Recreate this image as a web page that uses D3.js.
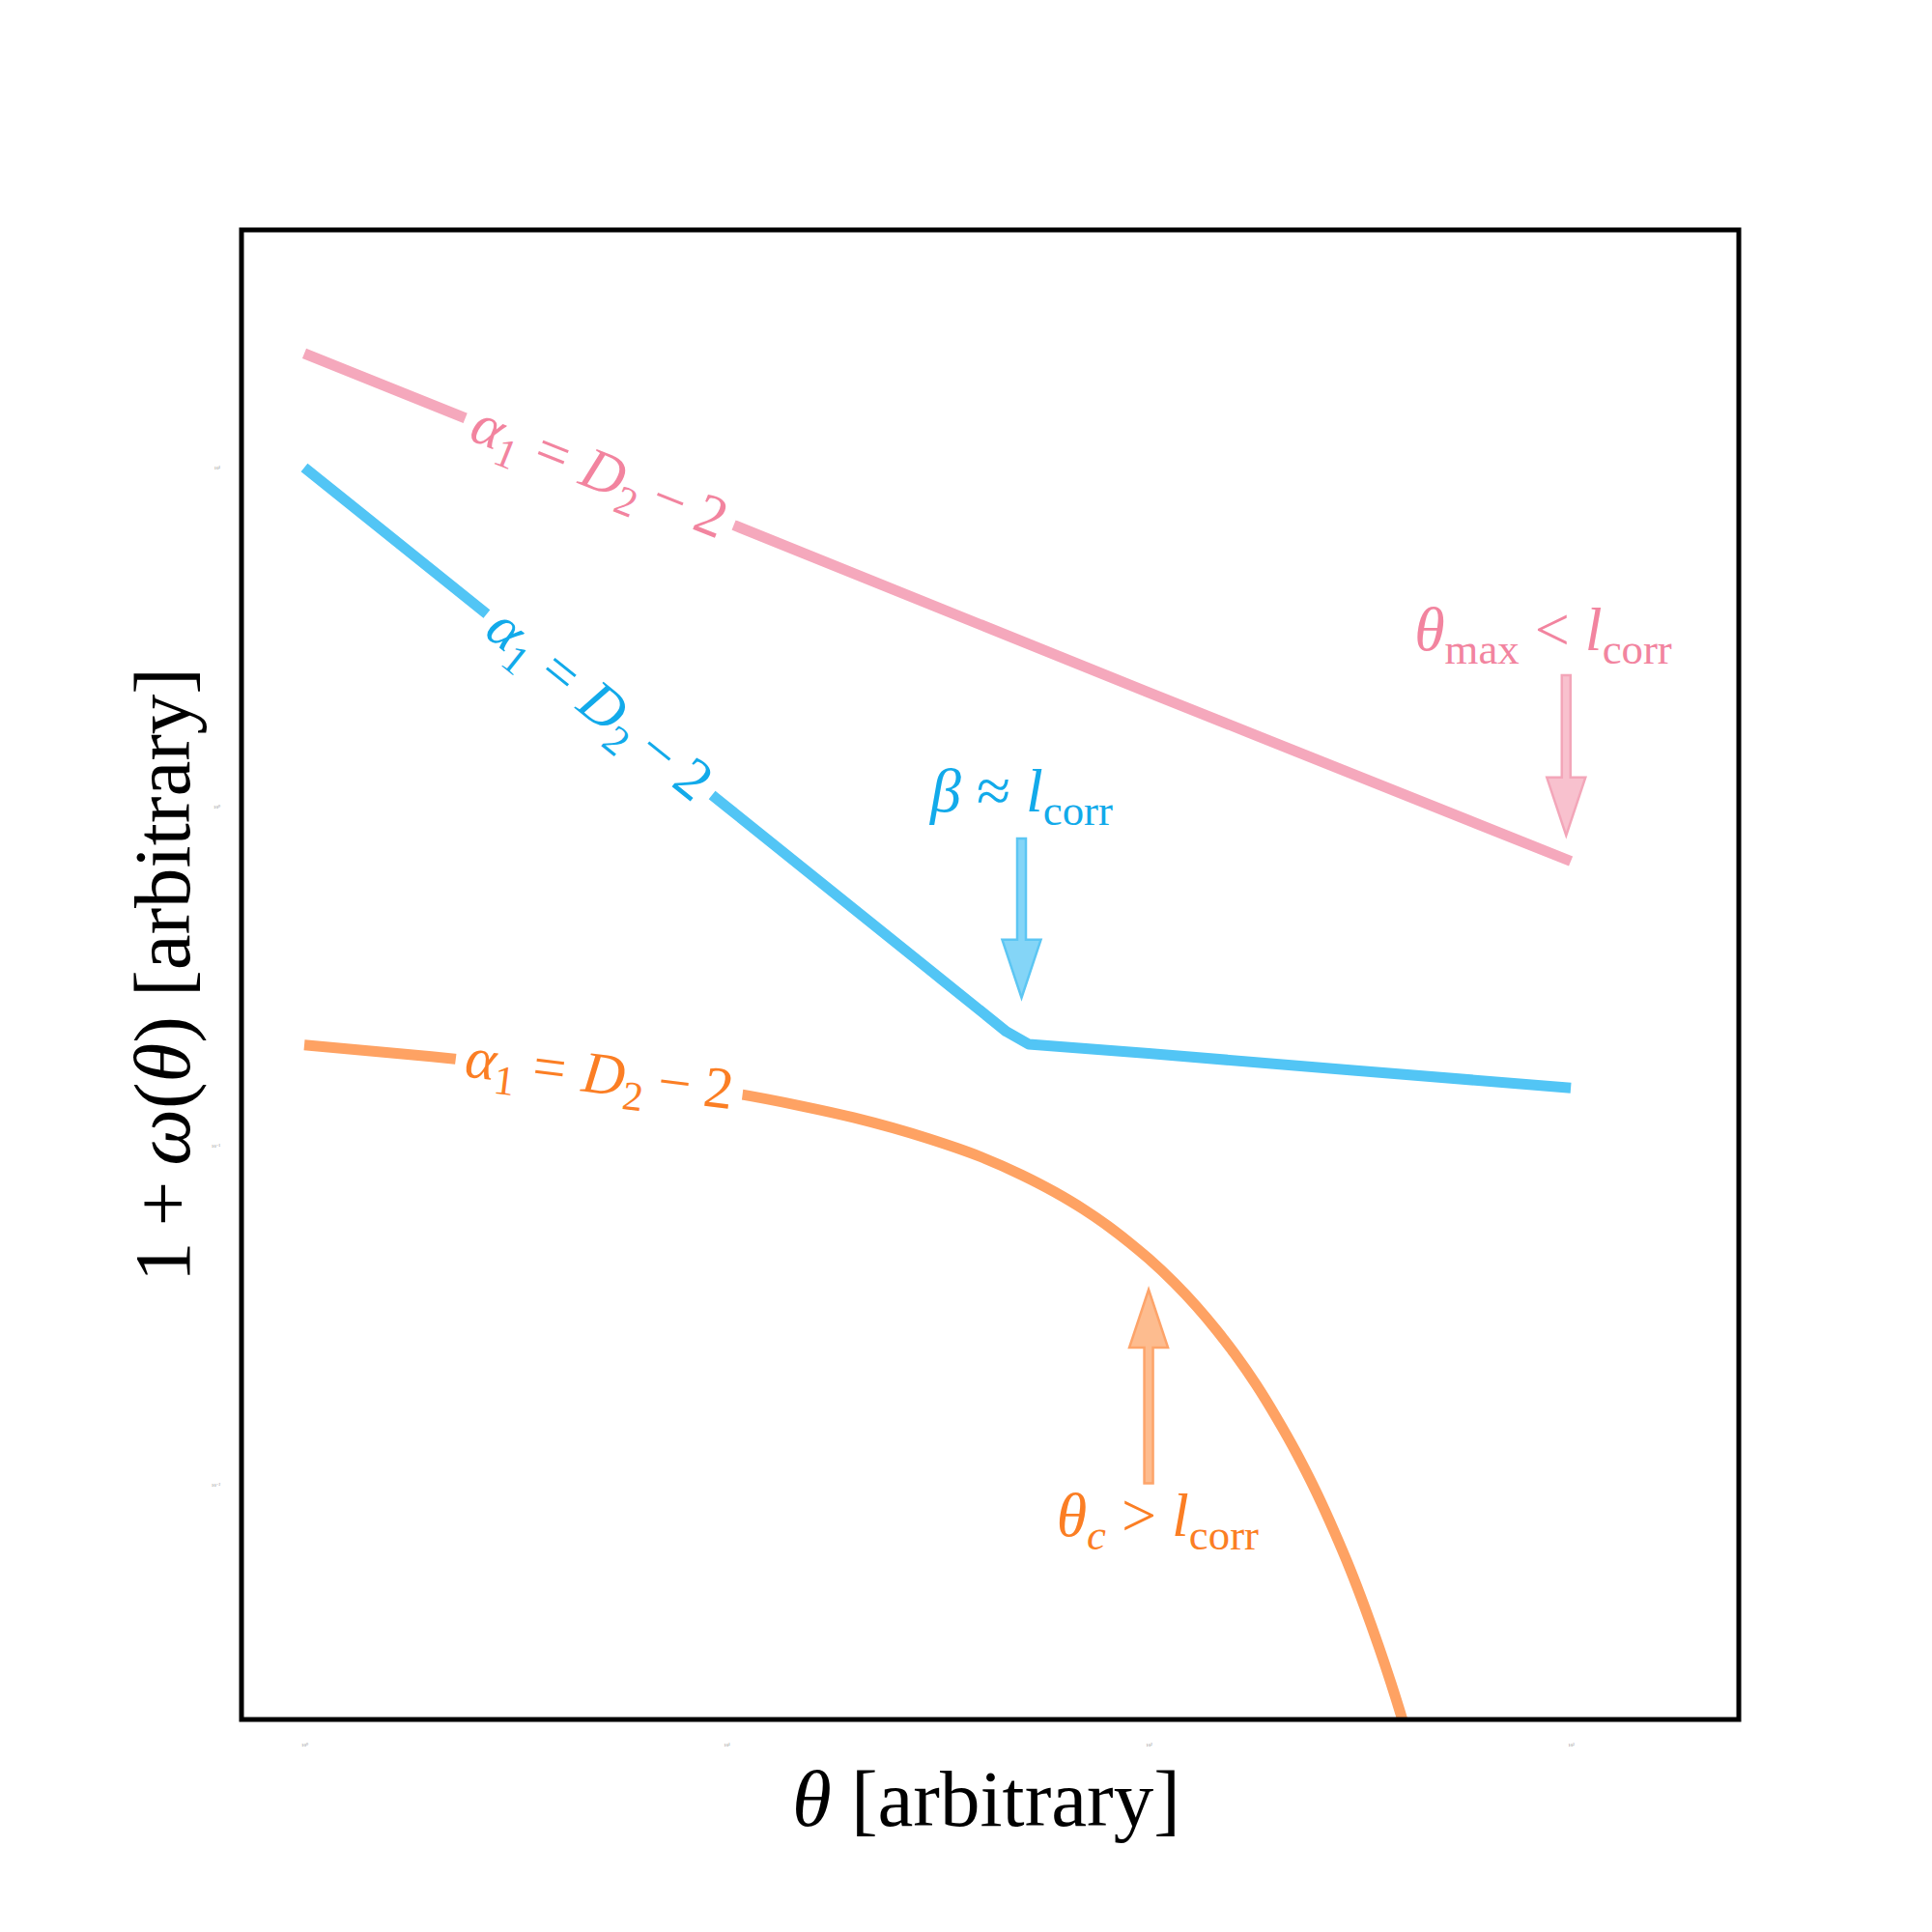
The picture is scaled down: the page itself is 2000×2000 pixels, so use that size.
<!DOCTYPE html>
<html>
<head>
<meta charset="utf-8">
<script src="https://cdn.jsdelivr.net/npm/d3@7"></script>
<style>
  body { margin: 0; background: #fff; }
  text { font-family: "Liberation Serif", "DejaVu Serif", serif; }
</style>
</head>
<body>
<div id="chart"></div>
<script>
// Values (log-log axes, arbitrary units)
const xTicks = [1, 10, 100, 1000];
const xTickLabels = ["10⁰", "10¹", "10²", "10³"];
const yTicks = [0.01, 0.1, 1, 10];
const yTickLabels = ["10⁻²", "10⁻¹", "10⁰", "10¹"];

// pink: single power law up to theta_max
const pinkX = [1, 5, 10, 100, 1000];
const pinkY = [21.7, 9.7, 6.9, 2.17, 0.69];

// blue: broken power law, break near l_corr
const blueX = [1, 5, 10, 30, 46, 52, 100, 300, 1000];
const blueY = [10, 2.0, 1.0, 0.333, 0.217, 0.199, 0.187, 0.167, 0.148];

// orange: power law with exponential cutoff
const orangeX = [1, 2, 3, 5, 7, 10, 15, 20, 30, 40, 50, 60, 70, 80, 90, 100, 115, 130, 145, 160,
                 180, 200, 225, 250, 275, 300, 325, 350, 375, 400, 425, 450];
const orangeY = [0.198, 0.183, 0.174, 0.162, 0.153, 0.144, 0.131, 0.121, 0.105, 0.0927, 0.082, 0.0729,
                 0.065, 0.058, 0.0518, 0.0464, 0.0394, 0.0335, 0.0285, 0.0243, 0.01967, 0.0159,
                 0.01226, 0.00946, 0.00729, 0.00564, 0.00435, 0.00336, 0.0026, 0.00201, 0.001557, 0.00121];

// arrows: [x, yFrom, yTo]
const blueArrow = [50, 0.805, 0.273];
const pinkArrow = [975, 2.44, 0.822];
const orangeArrow = [100, 0.0101, 0.0376];

const labelX = 5;

const colors = {
    pink: "#f5a8bc", pinkText: "#f2849f", pinkFill: "#f8c1ce", pinkEdge: "#f3a6b9",
    blue: "#52c5f5", blueText: "#12aaea", blueFill: "#84d5f7", blueEdge: "#5cc6f3",
    orange: "#fea263", orangeText: "#fb7e24", orangeFill: "#fdbc8f", orangeEdge: "#fda46a"
};

const W = 2000, H = 2000;
const margin = { top: 238, right: 200, bottom: 220, left: 250 };
const width = W - margin.left - margin.right;
const height = H - margin.top - margin.bottom;

const svg = d3.select("#chart").append("svg")
    .attr("width", W)
    .attr("height", H)
    .style("background", "#fff");

const g = svg.append("g")
    .attr("transform", `translate(${margin.left},${margin.top})`);

const xScale = d3.scaleLog().domain([0.71, 2500]).range([0, width]);
const yScale = d3.scaleLog().domain([0.00203, 50.2]).range([height, 0]);

// tiny tick labels, no tick marks
const xAxis = g.append("g")
    .attr("transform", `translate(0,${height})`)
    .call(d3.axisBottom(xScale).tickValues(xTicks).tickSize(0).tickPadding(24)
        .tickFormat((d, i) => xTickLabels[i]));
const yAxis = g.append("g")
    .call(d3.axisLeft(yScale).tickValues(yTicks).tickSize(0).tickPadding(22)
        .tickFormat((d, i) => yTickLabels[i]));
[xAxis, yAxis].forEach(a => {
    a.select(".domain").remove();
    a.selectAll("text").attr("font-size", 5).attr("fill", "#888");
});

g.append("clipPath").attr("id", "clip")
    .append("rect").attr("width", width).attr("height", height);

const line = d3.line()
    .x(d => xScale(d[0]))
    .y(d => yScale(d[1]));

const series = [
    { xs: pinkX, ys: pinkY, c: colors.pink, t: colors.pinkText, curve: d3.curveLinear },
    { xs: blueX, ys: blueY, c: colors.blue, t: colors.blueText, curve: d3.curveLinear },
    { xs: orangeX, ys: orangeY, c: colors.orange, t: colors.orangeText, curve: d3.curveMonotoneX }
];

const plot = g.append("g").attr("clip-path", "url(#clip)");
series.forEach(s => {
    plot.append("path")
        .datum(s.xs.map((x, i) => [x, s.ys[i]]))
        .attr("fill", "none")
        .attr("stroke", s.c)
        .attr("stroke-width", 11)
        .attr("stroke-linejoin", "round")
        .attr("d", line.curve(s.curve));
});

// math-ish text from tokens: {s, it, sub, dx}
function mathText(sel, parts, fs) {
    let shift = 0;
    parts.forEach(p => {
        const ts = sel.append("tspan").text(p.s);
        const target = p.sub ? 0.22 * fs : 0;
        if (target !== shift) { ts.attr("dy", target - shift); shift = target; }
        if (p.it) ts.attr("font-style", "italic");
        if (p.sub) ts.attr("font-size", fs * 0.7);
        if (p.dx) ts.attr("dx", p.dx * fs);
    });
}

const alphaLabel = [
    { s: "α", it: true }, { s: "1", sub: true },
    { s: "=", dx: 0.28 }, { s: "D", it: true, dx: 0.28 }, { s: "2", sub: true },
    { s: "−", dx: 0.22 }, { s: "2", dx: 0.22 }
];

// inline labels sitting on each line at x = labelX
const labelSize = 61;
series.forEach(s => {
    const i = s.xs.indexOf(labelX);
    const px = xScale(labelX), py = yScale(s.ys[i]);
    const ax = xScale(s.xs[i - 1]), ay = yScale(s.ys[i - 1]);
    const bx = xScale(s.xs[i + 1]), by = yScale(s.ys[i + 1]);
    const ang = Math.atan2(by - ay, bx - ax) * 180 / Math.PI;
    const lg = g.append("g").attr("transform", `translate(${px},${py}) rotate(${ang})`);
    const bg = lg.append("rect").attr("fill", "#fff");
    const t = lg.append("text")
        .attr("text-anchor", "middle")
        .attr("y", 19)
        .attr("font-size", labelSize)
        .attr("fill", s.t);
    mathText(t, alphaLabel, labelSize);
    const bb = t.node().getBBox();
    bg.attr("x", bb.x - 10).attr("y", -24).attr("width", bb.width + 20).attr("height", 48);
});

// block arrows
function arrow(a, fill, edge) {
    const x = xScale(a[0]), y0 = yScale(a[1]), y1 = yScale(a[2]);
    const dir = Math.sign(y1 - y0);
    const sw = 4.5, hw = 20, hl = 60;
    const yb = y1 - dir * hl;
    const pts = [[x - sw, y0], [x + sw, y0], [x + sw, yb], [x + hw, yb], [x, y1],
                 [x - hw, yb], [x - sw, yb]];
    g.append("path")
        .attr("d", "M" + pts.map(p => p.join(",")).join("L") + "Z")
        .attr("fill", fill)
        .attr("stroke", edge)
        .attr("stroke-width", 2.5)
        .attr("stroke-linejoin", "miter");
}
arrow(blueArrow, colors.blueFill, colors.blueEdge);
arrow(pinkArrow, colors.pinkFill, colors.pinkEdge);
arrow(orangeArrow, colors.orangeFill, colors.orangeEdge);

// annotation texts
const noteSize = 64;
function note(x, y, parts, color) {
    const t = g.append("text")
        .attr("x", xScale(x)).attr("y", yScale(y))
        .attr("text-anchor", "middle")
        .attr("font-size", noteSize)
        .attr("fill", color);
    mathText(t, parts, noteSize);
}
note(50, 0.97, [
    { s: "β", it: true }, { s: "≈", dx: 0.25 }, { s: "l", it: true, dx: 0.25 }, { s: "corr", sub: true }
], colors.blueText);
note(860, 2.9, [
    { s: "θ", it: true }, { s: "max", sub: true }, { s: "<", dx: 0.25 },
    { s: "l", it: true, dx: 0.25 }, { s: "corr", sub: true }
], colors.pinkText);
note(105, 0.00706, [
    { s: "θ", it: true }, { s: "c", it: true, sub: true }, { s: ">", dx: 0.25 },
    { s: "l", it: true, dx: 0.25 }, { s: "corr", sub: true }
], colors.orangeText);

// frame
g.append("rect")
    .attr("width", width).attr("height", height)
    .attr("fill", "none").attr("stroke", "#000").attr("stroke-width", 5);

// axis titles
const xt = svg.append("text")
    .attr("x", margin.left + width / 2 - 4).attr("y", 1890)
    .attr("text-anchor", "middle").attr("font-size", 83);
xt.append("tspan").attr("font-style", "italic").text("θ");
xt.append("tspan").attr("dx", 20).text("[arbitrary]");

const yt = svg.append("text")
    .attr("transform", `translate(196,${margin.top + height / 2}) rotate(-90)`)
    .attr("text-anchor", "middle").attr("font-size", 83);
yt.append("tspan").text("1");
yt.append("tspan").attr("dx", 16).text("+");
yt.append("tspan").attr("dx", 16).attr("font-style", "italic").text("ω");
yt.append("tspan").text("(");
yt.append("tspan").attr("font-style", "italic").text("θ");
yt.append("tspan").text(")");
yt.append("tspan").attr("dx", 20).text("[arbitrary]");
</script>
</body>
</html>
